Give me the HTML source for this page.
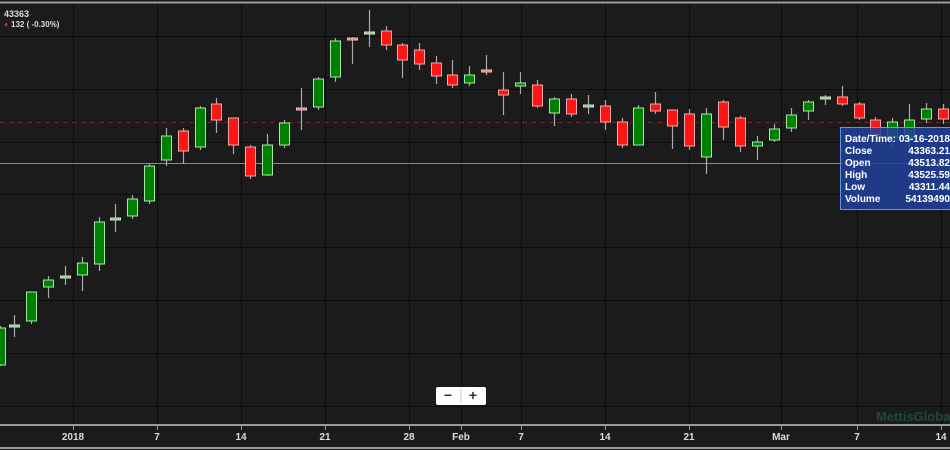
<!DOCTYPE html>
<html><head><meta charset="utf-8"><style>
html,body{margin:0;padding:0;background:#1b1b1b;width:950px;height:450px;overflow:hidden;font-family:"Liberation Sans",sans-serif}
</style></head><body>
<svg id="s" width="950" height="450" xmlns="http://www.w3.org/2000/svg" style="position:absolute;left:0;top:0">
<rect width="950" height="450" fill="#1b1b1b"/>
<g id="grid" stroke="#0b0b0b" stroke-width="1"></g>
<line x1="0" y1="2.5" x2="950" y2="2.5" stroke="#9a9a9a" stroke-width="2"/>
<line x1="0" y1="122.5" x2="950" y2="122.5" stroke="#6a2a2a" stroke-dasharray="5,4"/>
<line x1="0" y1="163.5" x2="950" y2="163.5" stroke="#8a8a8a"/>
<g id="c"></g>
<line x1="0" y1="425" x2="950" y2="425" stroke="#9a9a9a" stroke-width="2"/>
<line x1="0" y1="448" x2="950" y2="448" stroke="#9a9a9a" stroke-width="2"/>
<g id="ax" font-size="10" fill="#ddd" text-anchor="middle" font-weight="bold"></g>
<text x="876" y="421" font-size="13" fill="#1d4a3a" font-weight="bold">MettisGlobal</text>
<text x="4" y="17" font-size="9" fill="#ddd" font-weight="bold">43363</text>
<text x="4" y="27" font-size="8" fill="#e0203a" font-weight="bold">♦</text>
<text x="11" y="27" font-size="8" fill="#ddd" font-weight="bold">132 ( -0.30%)</text>
<rect x="436" y="387" width="50" height="18" rx="2" fill="#fff"/>
<line x1="461" y1="389" x2="461" y2="403" stroke="#ccc"/>
<text x="448" y="400" font-size="14" fill="#333" text-anchor="middle" font-weight="bold">−</text>
<text x="473" y="400" font-size="14" fill="#333" text-anchor="middle" font-weight="bold">+</text>
<rect x="840.5" y="127.5" width="112" height="82" fill="#20419a" fill-opacity="0.85" stroke="#6c8fe0"/>
<g font-size="10" fill="#fff" font-weight="bold">
<text x="845" y="142">Date/Time:</text><text x="950" y="142" text-anchor="end">03-16-2018</text>
<text x="845" y="154">Close</text><text x="950" y="154" text-anchor="end">43363.21</text>
<text x="845" y="166">Open</text><text x="950" y="166" text-anchor="end">43513.82</text>
<text x="845" y="178">High</text><text x="950" y="178" text-anchor="end">43525.59</text>
<text x="845" y="190">Low</text><text x="950" y="190" text-anchor="end">43311.44</text>
<text x="845" y="202">Volume</text><text x="950" y="202" text-anchor="end">54139490</text>
</g>
</svg>
<script>
var NS="http://www.w3.org/2000/svg";
function el(p,t,a){var e=document.createElementNS(NS,t);for(var k in a)e.setAttribute(k,a[k]);p.appendChild(e);return e;}
var g=document.getElementById('grid');
[36,89,142,194,247,300,353,406].forEach(function(y){el(g,'line',{x1:0,y1:y+.5,x2:950,y2:y+.5});});
var vx=[73,157,241,325,409,461,521,605,689,781,857,941];
vx.forEach(function(x){el(g,'line',{x1:x+.5,y1:4,x2:x+.5,y2:424});});
var lab=['2018','7','14','21','28','Feb','7','14','21','Mar','7','14'];
var ax=document.getElementById('ax');
vx.forEach(function(x,i){el(ax,'line',{x1:x+.5,y1:425,x2:x+.5,y2:430,stroke:'#9a9a9a'});var t=el(ax,'text',{x:x,y:440});t.textContent=lab[i];});
var C=[[0,'g',328,365,326,366],[14,'d',325,327,315,337],[31,'g',292,321,292,324],[48,'g',280,287,276,298],[65,'d',276,278,266,285],[82,'g',263,275,257,291],[99,'g',222,264,217,271],[115,'d',218,220,204,232],[132,'g',199,216,195,219],[149,'g',166,201,164,204],
[166,'g',136,160,128,166],[183,'r',131,151,128,164],[200,'g',108,147,106,150],[216,'r',104,120,98,133],[233,'r',118,145,118,154],[250,'r',147,176,145,179],[267,'g',145,175,134,176],[284,'g',123,145,120,148],[301,'p',108,110,88,130],
[318,'g',79,107,77,110],[335,'g',41,77,38,82],[352,'p',38,40,37,64],[369,'d',32,34,10,47],[386,'r',31,45,26,50],[402,'r',45,60,43,78],[419,'r',50,64,43,70],[436,'r',63,76,56,84],[452,'r',75,85,60,88],[469,'g',75,83,66,86],[486,'p',70,72,55,75],[503,'r',90,95,72,115],[520,'g',83,86,72,94],[537,'r',85,106,80,108],[554,'g',99,113,97,126],[571,'r',99,114,94,117],[588,'d',105,107,95,114],[605,'r',106,122,100,130],[622,'r',122,145,118,148],
[638,'g',108,145,105,145],[655,'r',104,111,92,114],[672,'r',110,126,110,149],[689,'r',114,146,109,150],[706,'g',114,157,108,174],[723,'r',102,127,100,140],[740,'r',118,146,116,152],[757,'g',142,146,136,160],[774,'g',129,140,124,142],[791,'g',115,128,108,132],[808,'g',102,111,100,120],[825,'d',97,99,95,105],[842,'r',97,104,86,106],[859,'r',104,118,102,120],[875,'r',120,135,117,142],[892,'g',122,138,118,146],[909,'g',120,138,104,150],[926,'g',109,119,103,123],[943,'r',109,119,104,124]];
var cg=document.getElementById('c');
C.forEach(function(c){var x=c[0],t=c[1];
el(cg,'line',{x1:x+.5,y1:c[4],x2:x+.5,y2:c[5],stroke:'#aaa','stroke-width':1.2});
var f,s;if(t=='g'){f='#008000';s='#a8e6a8';}else if(t=='r'){f='#ff1414';s='#f0a8a8';}else if(t=='p'){f='#e86a6a';s='#f0c0c0';}else{f='#8ab88a';s='#c8e8c8';}
el(cg,'rect',{x:x-4.5,y:c[2],width:10,height:Math.max(2,c[3]-c[2]),fill:f,stroke:s,'stroke-width':1});});
</script>
</body></html>
